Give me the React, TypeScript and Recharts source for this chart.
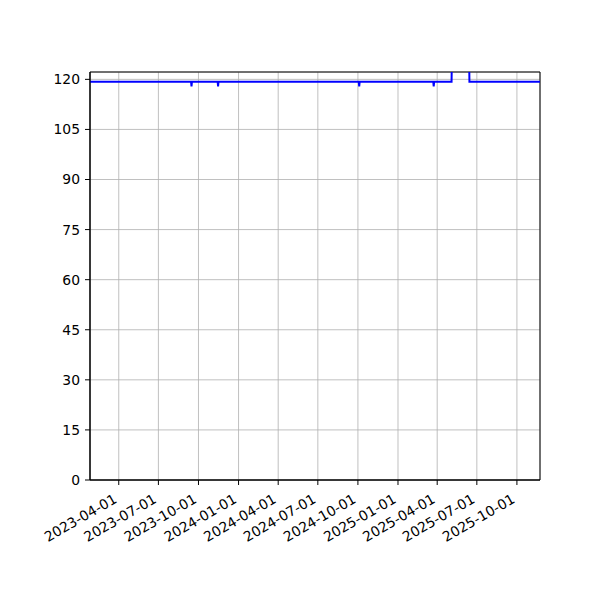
import React from 'react'
import { LineChart, Line, XAxis, YAxis, CartesianGrid, ReferenceArea } from 'recharts'

// change points of a daily series (step-like, one-day dips)
const dates = [
  '2023-01-25', '2023-09-14', '2023-09-15', '2023-09-16',
  '2023-11-14', '2023-11-15', '2023-11-16',
  '2024-10-03', '2024-10-04', '2024-10-05',
  '2025-03-23', '2025-03-24', '2025-03-25',
  '2025-05-04', '2025-05-05', '2025-06-13', '2025-06-14', '2025-11-23',
]
const values = [
  119.3, 119.3, 117.9, 119.3,
  119.3, 117.9, 119.3,
  119.3, 117.9, 119.3,
  119.3, 117.9, 119.3,
  119.3, 130, 130, 119.3, 119.3,
]
const xTickLabels = [
  '2023-04-01', '2023-07-01', '2023-10-01', '2024-01-01', '2024-04-01', '2024-07-01',
  '2024-10-01', '2025-01-01', '2025-04-01', '2025-07-01', '2025-10-01',
]
const yTicks = [0, 15, 30, 45, 60, 75, 90, 105, 120]

const toMs = (s: string) => Date.parse(s + 'T00:00:00Z')
const data = dates.map((d, i) => ({ t: toMs(d), v: values[i] }))
const xTicks = xTickLabels.map(toMs)
const xMin = toMs('2023-01-25')
const xMax = toMs('2025-11-23')
const yMax = 122.2

const FONT = 'DejaVu Sans, sans-serif'

const fmt = (ms: number) => new Date(ms).toISOString().slice(0, 10)

function DateTick(props: any) {
  const { x, y, payload } = props
  return (
    <g transform={`translate(${x - 6},${y + 3})`}>
      <text
        transform="rotate(-30)"
        textAnchor="end"
        dy="0.73em"
        fontSize={13.9}
        fontFamily={FONT}
        fill="#000"
      >
        {fmt(payload.value)}
      </text>
    </g>
  )
}

export default function App() {
  return (
    <div style={{ position: 'absolute', left: 0, top: 0, width: 600, height: 600, background: '#fff' }}>
      <LineChart width={600} height={600} data={data} margin={{ top: 72, right: 60, bottom: 0, left: 0 }}>
        <CartesianGrid stroke="#b0b0b0" strokeWidth={0.8} />
        <XAxis
          dataKey="t"
          type="number"
          domain={[xMin, xMax]}
          ticks={xTicks}
          interval={0}
          allowDataOverflow
          height={120}
          tickSize={5}
          tickMargin={5}
          tick={<DateTick />}
          tickLine={{ stroke: '#000' }}
          axisLine={{ stroke: '#000' }}
        />
        <YAxis
          type="number"
          domain={[0, yMax]}
          ticks={yTicks}
          interval={0}
          allowDataOverflow
          width={90}
          tickSize={5}
          tickMargin={5}
          tick={{ fill: '#000', fontSize: 13.9, fontFamily: FONT }}
          tickLine={{ stroke: '#000' }}
          axisLine={{ stroke: '#000' }}
        />
        <Line
          dataKey="v"
          type="linear"
          stroke="#0000ff"
          strokeWidth={2}
          dot={false}
          isAnimationActive={false}
        />
        <ReferenceArea x1={xMin} x2={xMax} y1={0} y2={yMax} fill="none" stroke="#000" strokeWidth={1} />
      </LineChart>
    </div>
  )
}
